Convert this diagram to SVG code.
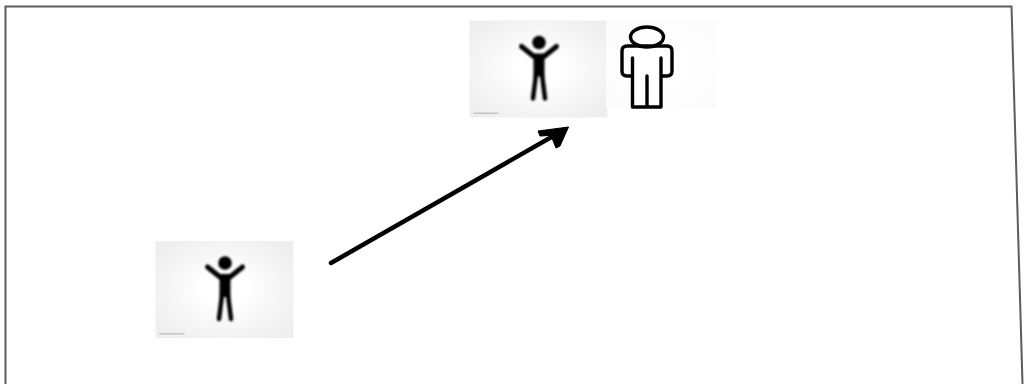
<svg xmlns="http://www.w3.org/2000/svg" width="1025" height="384" viewBox="0 0 1025 384">
<defs>
<radialGradient id="bg" cx="50%" cy="50%" r="62%"><stop offset="0.25" stop-color="#ffffff"/><stop offset="1" stop-color="#eeeeee"/></radialGradient>
<radialGradient id="bg2" cx="50%" cy="50%" r="70%"><stop offset="0.3" stop-color="#ffffff"/><stop offset="1" stop-color="#fbfbfb"/></radialGradient>
<filter id="soft" x="-10%" y="-10%" width="120%" height="120%"><feGaussianBlur stdDeviation="0.8"/></filter>
<filter id="softer" x="-10%" y="-10%" width="120%" height="120%"><feGaussianBlur stdDeviation="0.55"/></filter>
<g id="person">
<rect x="0" y="0" width="138" height="97" fill="url(#bg)"/>
<g filter="url(#soft)">
<circle cx="69.500" cy="22" r="6.800" fill="#000"/>
<path d="M52 26 L64.500 36 M87 26 L74.500 36" fill="none" stroke="#000" stroke-width="5" stroke-linecap="round"/>
<path d="M64 33 H75 V56 H64 Z" fill="#000"/>
<path d="M66.500 54 L63.500 78 M72.500 54 L75.500 78" fill="none" stroke="#000" stroke-width="4.500" stroke-linecap="round"/>
</g>
<rect x="4" y="92" width="25" height="1.500" fill="#c4c4c4" filter="url(#softer)"/>
</g>
</defs>
<style>.frame{fill:none;stroke:#5c5c5c;stroke-width:2}.outline{fill:none;stroke:#000;stroke-width:3.400;stroke-linecap:round;stroke-linejoin:round}</style>
<rect width="1025" height="384" fill="#fff"/>
<path id="frame" class="frame" d="M5.500 384 V6.500 H1011.500 L1022.500 384"/>
<g id="person-left"><use href="#person" x="155.500" y="241"/></g>
<g id="person-top"><use href="#person" x="469.500" y="20.500"/></g>
<g id="outline-person">
<rect x="606" y="21" width="111" height="88" fill="url(#bg2)"/>
<g filter="url(#softer)">
<ellipse cx="647" cy="37" rx="16.500" ry="10" class="outline"/>
<path class="outline" d="M632.500 58 V107 H661 V58 M647 76 V107 M632.500 76 H627 Q622 76 622 71 V51 Q622 46 627 46 H667 Q672 46 672 51 V71 Q672 76 667 76 H661"/>
</g>
</g>
<g id="connectors" filter="url(#softer)">
<path d="M331 263 L562 131" fill="none" stroke="#000" stroke-width="4.500" stroke-linecap="round"/>
<path d="M568.500 127 L538 131 L540 136 L549 135.500 L552 138 L556 148 L560 146 Z" fill="#000" stroke="#000" stroke-width="1" stroke-linejoin="round"/>
</g>
</svg>
